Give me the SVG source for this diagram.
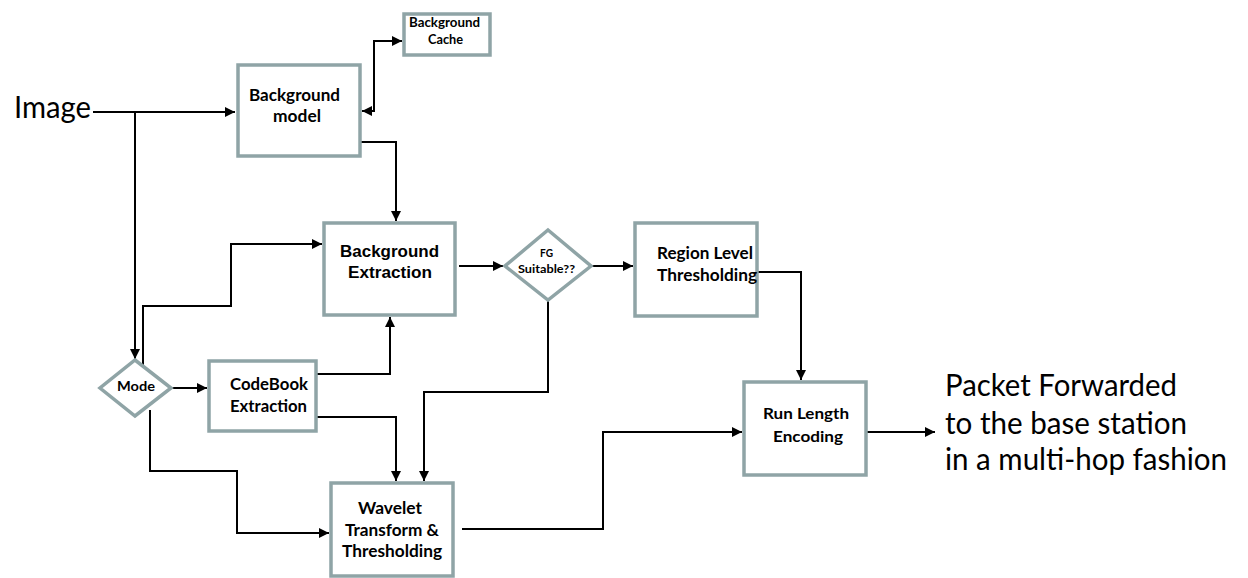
<svg xmlns="http://www.w3.org/2000/svg" width="1248" height="578" viewBox="0 0 1248 578">
<style>
.box{fill:#fff;stroke:#8fa4a6;stroke-width:3.5}
.c{fill:none;stroke:#000;stroke-width:2}
.t{font-family:Lato,"Liberation Sans",sans-serif;font-weight:bold;fill:#000}
.a{font-family:"Liberation Sans",Arial,sans-serif;font-weight:bold;fill:#000}
.big{font-family:Lato,"Open Sans",sans-serif;fill:#000;font-size:30px}
</style>
<defs>
<marker id="ah" viewBox="0 0 10 10" refX="10" refY="5" markerWidth="11" markerHeight="10" markerUnits="userSpaceOnUse" orient="auto-start-reverse">
<path d="M0,0 L10,5 L0,10 z" fill="#000"/>
</marker>
</defs>
<rect width="1248" height="578" fill="#fff"/>
<g id="connectors">
<path class="c" d="M93,112 H235" marker-end="url(#ah)"/>
<path class="c" d="M135,112 V359" marker-end="url(#ah)"/>
<path class="c" d="M362,111 H374 V41 H402" marker-start="url(#ah)" marker-end="url(#ah)"/>
<path class="c" d="M361,142 H396 V221" marker-end="url(#ah)"/>
<path class="c" d="M143,367 V306 H231 V244 H322" marker-end="url(#ah)"/>
<path class="c" d="M172,388 H207" marker-end="url(#ah)"/>
<path class="c" d="M317,374 H390 V317" marker-end="url(#ah)"/>
<path class="c" d="M317,417 H396 V481" marker-end="url(#ah)"/>
<path class="c" d="M150,410 V471 H237 V533 H329" marker-end="url(#ah)"/>
<path class="c" d="M459,266 H503" marker-end="url(#ah)"/>
<path class="c" d="M592,266 H633" marker-end="url(#ah)"/>
<path class="c" d="M548,301 V392 H424 V481" marker-end="url(#ah)"/>
<path class="c" d="M758,272 H801 V380" marker-end="url(#ah)"/>
<path class="c" d="M462,529 H603 V432 H742" marker-end="url(#ah)"/>
<path class="c" d="M867,432 H935" marker-end="url(#ah)"/>
</g>
<g id="image-label">
<text class="big" x="14" y="118" textLength="77" lengthAdjust="spacingAndGlyphs">Image</text>
</g>
<g id="background-cache">
<rect class="box" x="404" y="14" width="86" height="41"/>
<text class="t" x="409" y="27" font-size="13" textLength="71" lengthAdjust="spacingAndGlyphs">Background</text>
<text class="t" x="428" y="44" font-size="13" textLength="35" lengthAdjust="spacingAndGlyphs">Cache</text>
</g>
<g id="background-model">
<rect class="box" x="238" y="65" width="122" height="91"/>
<text class="t" x="249" y="101" font-size="17" textLength="91" lengthAdjust="spacingAndGlyphs">Background</text>
<text class="t" x="273" y="122" font-size="17" textLength="48" lengthAdjust="spacingAndGlyphs">model</text>
</g>
<g id="background-extraction">
<rect class="box" x="324" y="223" width="131" height="92"/>
<text class="a" x="340" y="257" font-size="16.5" textLength="99" lengthAdjust="spacingAndGlyphs">Background</text>
<text class="a" x="348" y="278" font-size="16.5" textLength="84" lengthAdjust="spacingAndGlyphs">Extraction</text>
</g>
<g id="mode">
<polygon class="box" points="135,360 171,388 135,416 100,388"/>
<text class="t" x="117" y="391" font-size="13.5" textLength="38" lengthAdjust="spacingAndGlyphs">Mode</text>
</g>
<g id="codebook-extraction">
<rect class="box" x="209" y="361" width="107" height="70"/>
<text class="t" x="230" y="390" font-size="17" textLength="78" lengthAdjust="spacingAndGlyphs">CodeBook</text>
<text class="t" x="230" y="412" font-size="17" textLength="77" lengthAdjust="spacingAndGlyphs">Extraction</text>
</g>
<g id="wavelet">
<rect class="box" x="331" y="483" width="122" height="93"/>
<text class="t" x="358" y="514" font-size="17.5" textLength="64" lengthAdjust="spacingAndGlyphs">Wavelet</text>
<text class="t" x="345" y="536" font-size="17.5" textLength="94" lengthAdjust="spacingAndGlyphs">Transform &amp;</text>
<text class="t" x="342" y="557" font-size="17.5" textLength="100" lengthAdjust="spacingAndGlyphs">Thresholding</text>
</g>
<g id="fg-suitable">
<polygon class="box" points="548,230 591,266 548,300 505,266"/>
<text class="t" x="540" y="257" font-size="12" textLength="13" lengthAdjust="spacingAndGlyphs">FG</text>
<text class="t" x="518" y="273" font-size="12" textLength="57" lengthAdjust="spacingAndGlyphs">Suitable??</text>
</g>
<g id="region-level">
<rect class="box" x="635" y="223" width="122" height="93"/>
<text class="t" x="657" y="259" font-size="17" textLength="96" lengthAdjust="spacingAndGlyphs">Region Level</text>
<text class="t" x="657" y="281" font-size="17" textLength="100" lengthAdjust="spacingAndGlyphs">Thresholding</text>
</g>
<g id="run-length">
<rect class="box" x="744" y="382" width="122" height="93"/>
<text class="t" x="763" y="419" font-size="15" textLength="86" lengthAdjust="spacingAndGlyphs">Run Length</text>
<text class="t" x="773" y="442" font-size="15" textLength="70" lengthAdjust="spacingAndGlyphs">Encoding</text>
</g>
<g id="output-label">
<text class="big" x="945" y="396" textLength="232" lengthAdjust="spacingAndGlyphs">Packet Forwarded</text>
<text class="big" x="945" y="434" textLength="242" lengthAdjust="spacingAndGlyphs">to the base station</text>
<text class="big" x="945" y="470" textLength="282" lengthAdjust="spacingAndGlyphs">in a multi-hop fashion</text>
</g>
</svg>
